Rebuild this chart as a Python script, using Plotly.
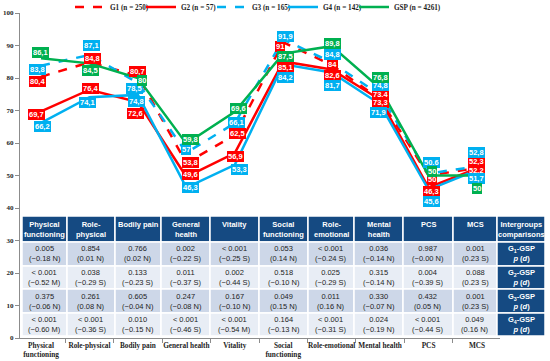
import plotly.graph_objects as go

# ---------------- data ----------------
categories = ["Physical functioning", "Role-physical", "Bodily pain", "General health", "Vitality",
              "Social functioning", "Role-emotional", "Mental health", "PCS", "MCS"]
tick_labels = ["Physical<br>functioning", "Role-physical", "Bodily pain", "General health", "Vitality",
               "Social<br>functioning", "Role-emotional", "Mental health", "PCS", "MCS"]
header_labels = ["Physical<br>functioning", "Role-<br>physical", "Bodily pain", "General<br>health", "Vitality",
                 "Social<br>functioning", "Role-<br>emotional", "Mental<br>health", "PCS", "MCS",
                 "Intergroups<br>comparisons"]

g1 = [80.4, 84.8, 80.7, 53.8, 62.5, 91.0, 84.0, 73.4, 50.0, 52.3]
g2 = [69.7, 76.4, 72.6, 49.6, 56.9, 85.1, 82.6, 73.3, 46.3, 52.2]
g3 = [83.8, 87.1, 78.5, 57.0, 66.1, 91.9, 84.8, 74.8, 50.6, 52.8]
g4 = [66.2, 74.1, 74.8, 46.3, 53.3, 84.2, 81.7, 71.9, 45.6, 51.7]
gsp = [86.1, 84.5, 80.0, 59.8, 69.6, 87.5, 89.8, 76.8, 50.0, 50.0]

series_names = ["G1 (n = 250)", "G2 (n = 57)", "G3 (n = 165)", "G4 (n = 142)", "GSP (n = 4261)"]

p_g1 = ["0.005", "0.854", "0.766", "0.002", "< 0.001", "0.053", "< 0.001", "0.036", "0.987", "0.001"]
d_g1 = ["−0.18 N", "0.01 N", "0.02 N", "−0.22 S", "−0.25 S", "0.14 N", "−0.24 S", "−0.14 N", "−0.00 N", "0.23 S"]
p_g2 = ["< 0.001", "0.038", "0.133", "0.011", "0.002", "0.518", "0.025", "0.315", "0.004", "0.088"]
d_g2 = ["−0.52 M", "−0.29 S", "−0.23 S", "−0.37 S", "−0.44 S", "−0.10 N", "−0.29 S", "−0.14 N", "−0.39 S", "0.23 S"]
p_g3 = ["0.375", "0.261", "0.605", "0.247", "0.167", "0.049", "0.011", "0.330", "0.432", "0.001"]
d_g3 = ["−0.06 N", "0.08 N", "−0.04 N", "−0.08 N", "−0.10 N", "0.15 N", "0.16 N", "−0.07 N", "0.05 N", "0.23 S"]
p_g4 = ["< 0.001", "< 0.001", "0.010", "< 0.001", "< 0.001", "0.164", "< 0.001", "0.024", "< 0.001", "0.049"]
d_g4 = ["−0.60 M", "−0.36 S", "−0.15 N", "−0.46 S", "−0.54 M", "−0.13 N", "−0.31 S", "−0.19 N", "−0.44 S", "0.16 N"]
comparisons = ["1", "2", "3", "4"]

# ---------------- styling ----------------
RED, BLUE, GREEN = "#FF0000", "#00B0F0", "#00B050"
NAVY = "#154A82"
ROW_DARK, ROW_LIGHT = "#CDD7E8", "#E8EDF5"
SERIF = "Liberation Serif"
SANS = "Liberation Sans"

series = [g1, g2, g3, g4, gsp]
colors = [RED, RED, BLUE, BLUE, GREEN]
dashes = ["dash", "solid", "dash", "solid", "solid"]

# label offsets in pixels (dx, dy with dy positive = downward)
offsets = [
    [(-4, 5), (3, -4), (0, -4), (4, -1), (3, -1), (-3, 4), (1, -1), (0, -5), (3, 4), (0, -7)],
    [(-5, 3), (1, -1), (-2, 11), (4, -2), (1, 3), (2, 6), (1, 6), (0, 3), (3, 4), (0, 2)],
    [(-4, 4), (2, -9), (-3, 6), (0, -3), (2, -1), (2, -3), (1, -8), (0, -9), (3, -11), (0, -14)],
    [(1, 4), (-2, 5), (-1, 7), (4, 0), (5, 5), (2, 13), (1, 13), (-2, 8), (3, 12), (0, 9)],
    [(-1, -6), (1, 7), (4, 2), (4, -4), (4, -3), (2, 3), (1, -3), (0, -11), (3, -4), (0, 13)],
]
label_overrides = {(2, 8): "50.6"}


def fmt(v):
    s = f"{v:.1f}"
    if s.endswith(".0"):
        s = s[:-2]
    return s.replace(".", ",")


fig = go.Figure()
for name, vals, col, dsh in zip(series_names, series, colors, dashes):
    fig.add_trace(go.Scatter(x=categories, y=vals, mode="lines", name=name,
                             line=dict(color=col, width=2.5, dash=dsh)))
# invisible spacer entry so the last legend text is not clipped
fig.add_trace(go.Scatter(x=[None], y=[None], mode="lines", name=" ", hoverinfo="skip",
                         line=dict(width=0, color="rgba(0,0,0,0)")))

annotations = []
for si, (vals, col) in enumerate(zip(series, colors)):
    for ci, v in enumerate(vals):
        dx, dy = offsets[si][ci]
        txt = label_overrides.get((si, ci), fmt(v))
        annotations.append(dict(x=categories[ci], y=v, xref="x", yref="y", text=f"<b>{txt}</b>",
                                showarrow=False, xshift=dx, yshift=-dy,
                                xanchor="center", yanchor="middle",
                                font=dict(family=SANS, size=7.5, color="white"),
                                bgcolor=col, borderpad=1, borderwidth=0))

# ---------------- table overlay (pixel -> paper helpers) ----------------
L, R_, T, B = 20, 500, 13, 338


def px(x):
    return (x - L) / (R_ - L)


def py(y):
    return (B - y) / (B - T)


col_edges = [22, 67, 115, 161, 210, 259, 308, 354, 403, 453, 497, 545]
row_edges = [216, 242, 266, 289, 313, 336]
shapes = []
pvals = [p_g1, p_g2, p_g3, p_g4]
dvals = [d_g1, d_g2, d_g3, d_g4]
for r in range(5):
    for c in range(11):
        if r == 0 or c == 10:
            fill = NAVY
        else:
            fill = ROW_DARK if r % 2 == 1 else ROW_LIGHT
        shapes.append(dict(type="rect", xref="paper", yref="paper",
                           x0=px(col_edges[c]), x1=px(col_edges[c + 1]),
                           y0=py(row_edges[r + 1]), y1=py(row_edges[r]),
                           fillcolor=fill, line=dict(color="white", width=1.5), layer="above"))

for c, h in enumerate(header_labels):
    annotations.append(dict(x=px((col_edges[c] + col_edges[c + 1]) / 2), y=py(row_edges[0] + 2),
                            xref="paper", yref="paper", text=f"<b>{h}</b>", showarrow=False,
                            xanchor="center", yanchor="top",
                            font=dict(family=SANS, size=7.5, color="white")))

for r in range(4):
    yc = py((row_edges[r + 1] + row_edges[r + 2]) / 2)
    for c in range(10):
        annotations.append(dict(x=px((col_edges[c] + col_edges[c + 1]) / 2), y=yc,
                                xref="paper", yref="paper",
                                text=f"{pvals[r][c]}<br>({dvals[r][c]})", showarrow=False,
                                xanchor="center", yanchor="middle",
                                font=dict(family=SANS, size=7.5, color="#1E1E1E")))
    annotations.append(dict(x=px((col_edges[10] + col_edges[11]) / 2), y=yc,
                            xref="paper", yref="paper",
                            text=f"<b>G<sub>{comparisons[r]}</sub>-GSP<br><i>p</i> (<i>d</i>)</b>",
                            showarrow=False, xanchor="center", yanchor="middle",
                            font=dict(family=SANS, size=7.5, color="white")))

fig.update_layout(
    width=550, height=361,
    margin=dict(l=L, r=550 - R_, t=T, b=361 - B, autoexpand=False),
    paper_bgcolor="white", plot_bgcolor="white",
    showlegend=True,
    legend=dict(orientation="h", x=px(70), xanchor="left", y=py(7), yanchor="middle",
                font=dict(family=SERIF, size=7.2, color="#1E1E1E", weight="bold"),
                entrywidth=26, entrywidthmode="pixels", itemwidth=30,
                bgcolor="rgba(0,0,0,0)"),
    xaxis=dict(type="category", range=[-0.434, 9.475], tickvals=categories, ticktext=tick_labels,
               tickangle=0,
               showline=True, linecolor="#8C8C8C", linewidth=1, ticks="outside", tickson="boundaries",
               ticklen=4, tickcolor="#8C8C8C", showgrid=False, zeroline=False,
               tickfont=dict(family=SERIF, size=7.3, color="#1E1E1E", weight="bold")),
    yaxis=dict(range=[0, 100], dtick=10, showline=True, linecolor="#8C8C8C", linewidth=1,
               ticks="outside", ticklen=4, tickcolor="#8C8C8C", showgrid=False, zeroline=False,
               tickfont=dict(family=SERIF, size=7, color="#1E1E1E", weight="bold")),
    shapes=shapes,
    annotations=annotations,
)

fig.write_html("out.html", config={"displayModeBar": False},
               post_script="document.body.style.margin='0';document.body.style.padding='0';")
